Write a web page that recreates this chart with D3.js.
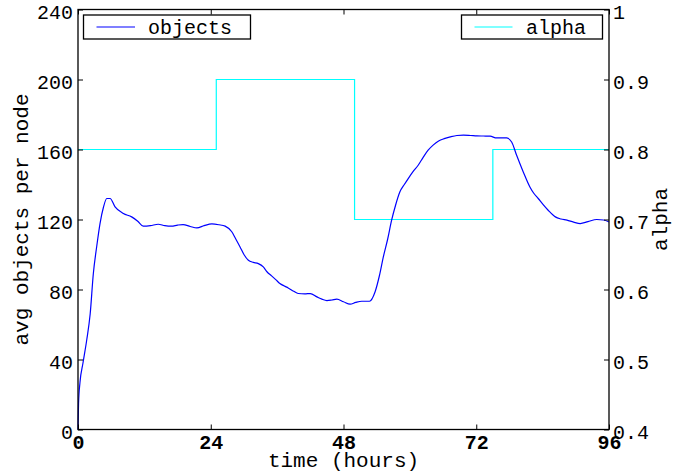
<!DOCTYPE html>
<html>
<head>
<meta charset="utf-8">
<script src="https://cdn.jsdelivr.net/npm/d3@7"></script>
<style>
body { margin: 0; background: #fff; }
svg { display: block; }
text { font-family: "Liberation Mono", "DejaVu Sans Mono", monospace; fill: #000; }
</style>
</head>
<body>
<div id="chart"></div>
<script>
// objects per node over time (hours)
var objHours = [0, 0.1, 0.36, 0.9, 1.57, 2.2, 2.77, 3.4, 3.98, 4.6, 5.2, 5.8, 6.7, 8.2, 9.7, 10.8, 11.8, 13.1, 14.5, 15.7,
    16.9, 18.0, 19.0, 20.3, 21.5, 22.8, 24.2, 25.5, 26.6, 27.8, 28.5, 29.3, 30.0, 30.8, 31.7, 32.6, 33.5, 34.2, 35.0, 35.8,
    36.5, 37.3, 38.0, 39.0, 39.8, 41.0, 42.0, 43.2, 44.1, 45.0, 45.9, 46.8, 48.0, 49.2, 50.2, 51.3, 52.7, 53.7, 54.5, 55.2,
    56.0, 56.7, 57.4, 58.2, 59.0, 59.7, 60.6, 61.5, 62.4, 63.3, 64.2, 65.2, 66.2, 67.3, 68.5, 69.7, 71.0, 72.1, 73.3, 74.5,
    75.7, 76.6, 77.5, 78.4, 79.3, 80.5, 81.7, 82.4, 83.2, 84.1, 85.0, 86.3, 87.3, 88.4, 89.6, 90.8, 92.2, 93.8, 95.0, 96];
var objValues = [0, 15, 27, 38, 51, 66, 89, 105, 117.7, 127, 132, 132, 127.2, 123.4, 121.5, 119, 116.2, 116.5, 117.3, 116.5,
    116.2, 116.8, 117.1, 116, 115.2, 116.5, 117.5, 117, 116.2, 113, 109, 104.3, 100, 96.7, 95.5, 94.8, 92.9, 90, 87.8, 85.5,
    83.4, 82, 80.9, 79, 77.7, 77.5, 77.7, 75.8, 74.5, 73.7, 74, 74.5, 73, 71.6, 72.6, 73.3, 73.3, 78.6, 88, 98.6,
    109, 119.6, 128, 135.8, 140, 143.4, 147.5, 151, 155.5, 159.6, 162.5, 164.9, 166.2, 167.2, 168, 168.2, 168, 167.8, 167.7, 167.6,
    166.6, 166.7, 166.6, 164.3, 156.7, 147.2, 138.6, 135, 132, 128.5, 125.3, 121.5, 120.3, 119.6, 118.5, 117.7, 118.8, 120, 119.7, 118.6];

// alpha setting (step function)
var alphaHours = [0, 25, 50, 75, 96];
var alphaValues = [0.8, 0.9, 0.7, 0.8, 0.8];

var xTicks = [0, 24, 48, 72, 96];
var yTicks = [0, 40, 80, 120, 160, 200, 240];
var alphaTicks = [0.4, 0.5, 0.6, 0.7, 0.8, 0.9, 1];

var W = 689, H = 476;
var margin = {left: 78, right: 80, top: 9.5, bottom: 46.5};
var iw = W - margin.left - margin.right, ih = H - margin.top - margin.bottom;

var svg = d3.select("#chart").append("svg").attr("width", W).attr("height", H);
var g = svg.append("g").attr("transform", "translate(" + margin.left + "," + margin.top + ")");

var x = d3.scaleLinear().domain([0, 96]).range([0, iw]);
var y = d3.scaleLinear().domain([0, 240]).range([ih, 0]);
var ya = d3.scaleLinear().domain([0.4, 1]).range([ih, 0]);

// lines
var alphaData = alphaHours.map(function(h, i) { return [h, alphaValues[i]]; });
g.append("path")
    .datum(alphaData)
    .attr("fill", "none")
    .attr("stroke", "#00ffff")
    .attr("stroke-width", 1.2)
    .attr("d", d3.line().curve(d3.curveStepAfter).x(function(d) { return x(d[0]); }).y(function(d) { return ya(d[1]); }));

var objData = objHours.map(function(h, i) { return [h, objValues[i]]; });
g.append("path")
    .datum(objData)
    .attr("fill", "none")
    .attr("stroke", "#0000ff")
    .attr("stroke-width", 1.2)
    .attr("d", d3.line().curve(d3.curveMonotoneX).x(function(d) { return x(d[0]); }).y(function(d) { return y(d[1]); }));

// axes, ticks pointing inward
function styleAxis(sel) {
    sel.select(".domain").remove();
    sel.selectAll(".tick line").attr("stroke", "#000").attr("stroke-width", 1);
    sel.selectAll("text").style("font-size", "20px");
}

var ax = g.append("g").attr("transform", "translate(0," + ih + ")")
    .call(d3.axisBottom(x).tickValues(xTicks).tickSize(-5).tickPadding(5));
styleAxis(ax);
ax.selectAll("text").style("font-weight", "bold");

var axTop = g.append("g").call(d3.axisTop(x).tickValues(xTicks).tickSize(-5).tickFormat(""));
styleAxis(axTop);

var ay = g.append("g")
    .call(d3.axisLeft(y).tickValues(yTicks).tickSize(-5).tickPadding(5));
styleAxis(ay);
ay.selectAll("text").attr("dy", "0.45em");

var ayr = g.append("g").attr("transform", "translate(" + iw + ",0)")
    .call(d3.axisRight(ya).tickValues(alphaTicks).tickSize(-5).tickPadding(4).tickFormat(d3.format("")));
styleAxis(ayr);
ayr.selectAll("text").attr("dy", "0.45em");

// frame
g.append("rect")
    .attr("width", iw).attr("height", ih)
    .attr("fill", "none").attr("stroke", "#000").attr("stroke-width", 1.3);

// axis titles
svg.append("text")
    .attr("x", margin.left + iw / 2).attr("y", 467)
    .attr("text-anchor", "middle")
    .style("font-size", "21px")
    .text("time (hours)");

svg.append("text")
    .attr("transform", "translate(28," + (margin.top + ih / 2) + ") rotate(-90)")
    .attr("text-anchor", "middle")
    .style("font-size", "21px")
    .text("avg objects per node");

svg.append("text")
    .attr("transform", "translate(667," + (margin.top + ih / 2) + ") rotate(-90)")
    .attr("text-anchor", "middle")
    .style("font-size", "21px")
    .text("alpha");

// legends
function legend(x0, x1, lx0, lx1, tx, color, label) {
    svg.append("rect")
        .attr("x", x0).attr("y", 15).attr("width", x1 - x0).attr("height", 24)
        .attr("fill", "#fff").attr("stroke", "#000").attr("stroke-width", 1.3);
    svg.append("line")
        .attr("x1", lx0).attr("x2", lx1).attr("y1", 27).attr("y2", 27)
        .attr("stroke", color).attr("stroke-width", 1.2);
    svg.append("text")
        .attr("x", tx).attr("y", 34)
        .style("font-size", "20px")
        .text(label);
}
legend(83.5, 250.5, 96.5, 135, 148, "#0000ff", "objects");
legend(461.5, 602.5, 474.5, 512.5, 526, "#00ffff", "alpha");
</script>
</body>
</html>
